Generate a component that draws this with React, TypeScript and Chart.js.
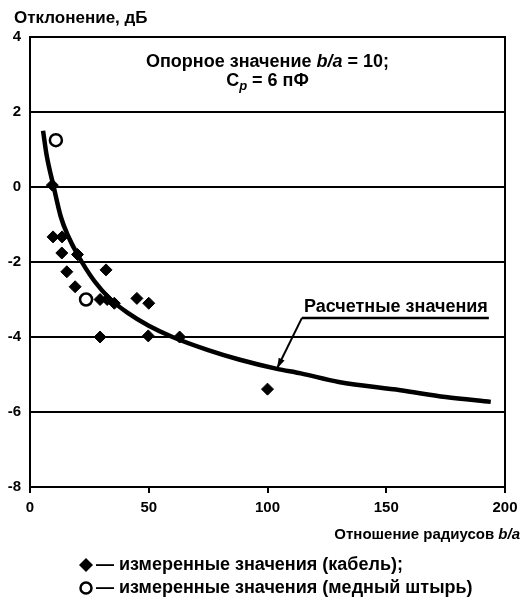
import React, { useEffect, useRef } from "react";
import { Chart, registerables } from "chart.js";

Chart.register(...registerables);

// Calculated curve ("Расчетные значения")
const curveX = [5.5, 7, 10, 13, 16, 20, 27, 34, 41, 50, 60, 75, 88, 104, 114, 130, 156, 175, 194];
const curveY = [1.5, 0.85, 0, -0.8, -1.3, -1.8, -2.5, -3.0, -3.35, -3.7, -4.0, -4.35, -4.6, -4.85, -4.97, -5.2, -5.42, -5.6, -5.73];

// Measured values (cable) – filled diamonds
const cableX = [9.4, 9.7, 13.5, 13.4, 20, 15.5, 32, 19, 29.5, 32.5, 35.5, 45, 50, 29.5, 49.8, 63, 100];
const cableY = [0.05, -1.33, -1.33, -1.76, -1.8, -2.26, -2.21, -2.66, -3.0, -3.0, -3.1, -2.97, -3.1, -4.0, -3.97, -4.0, -5.39];

// Measured values (copper pin) – open circles
const pinX = [10.9, 23.6];
const pinY = [1.25, -3.0];

const yTicks = [4, 2, 0, -2, -4, -6, -8];
const xTicks = [0, 50, 100, 150, 200];

const FONT = "'Liberation Sans', Arial, sans-serif";

const overlay = {
  id: "overlay",
  afterDraw(chart: any) {
    const { ctx, chartArea: a, scales } = chart;
    const xs = scales.x;
    const ys = scales.y;
    ctx.save();
    ctx.strokeStyle = "#000";
    ctx.fillStyle = "#000";
    ctx.lineWidth = 2;
    ctx.strokeRect(a.left, a.top, a.right - a.left, a.bottom - a.top);

    ctx.textBaseline = "middle";
    // Y-axis title
    ctx.font = `bold 17px ${FONT}`;
    ctx.textAlign = "left";
    ctx.fillText("Отклонение, дБ", 14, 18);

    // Annotation block
    const normal = `bold 18px ${FONT}`;
    const ital = `italic bold 18px ${FONT}`;
    const segs1: [string, string][] = [
      ["Опорное значение ", normal],
      ["b/a", ital],
      [" = 10;", normal],
    ];
    let w = 0;
    for (const [t, f] of segs1) { ctx.font = f; w += ctx.measureText(t).width; }
    const cx = xs.getPixelForValue(100);
    let px = cx - w / 2;
    const y1 = ys.getPixelForValue(3.33);
    for (const [t, f] of segs1) { ctx.font = f; ctx.fillText(t, px, y1); px += ctx.measureText(t).width; }

    const y2 = ys.getPixelForValue(2.83);
    ctx.font = normal;
    const wC = ctx.measureText("C").width;
    ctx.font = `italic bold 13px ${FONT}`;
    const wp = ctx.measureText("p").width;
    ctx.font = normal;
    const rest = " = 6 пФ";
    const wr = ctx.measureText(rest).width;
    px = cx - (wC + wp + wr) / 2;
    ctx.fillText("C", px, y2);
    px += wC;
    ctx.font = `italic bold 13px ${FONT}`;
    ctx.fillText("p", px, y2 + 6);
    px += wp;
    ctx.font = normal;
    ctx.fillText(rest, px, y2);

    // Calculated values label with leader arrow
    const lx = xs.getPixelForValue(114.5);
    const ly = ys.getPixelForValue(-3.49);
    ctx.font = `bold 18px ${FONT}`;
    ctx.textAlign = "left";
    ctx.textBaseline = "alphabetic";
    const label = "Расчетные значения";
    const lw = ctx.measureText(label).width;
    ctx.fillText(label, lx + 2, ly - 6);
    ctx.lineWidth = 2.5;
    ctx.beginPath();
    ctx.moveTo(lx, ly);
    ctx.lineTo(lx + lw + 3, ly);
    ctx.stroke();
    const tx = xs.getPixelForValue(104);
    const ty = ys.getPixelForValue(-4.84);
    ctx.lineWidth = 2;
    ctx.beginPath();
    ctx.moveTo(lx, ly);
    ctx.lineTo(tx, ty);
    ctx.stroke();
    const ang = Math.atan2(ty - ly, tx - lx);
    const hl = 11, hw = 0.3;
    ctx.beginPath();
    ctx.moveTo(tx, ty);
    ctx.lineTo(tx - hl * Math.cos(ang - hw), ty - hl * Math.sin(ang - hw));
    ctx.lineTo(tx - hl * Math.cos(ang + hw), ty - hl * Math.sin(ang + hw));
    ctx.closePath();
    ctx.fill();

    // X-axis title
    ctx.textBaseline = "middle";
    ctx.textAlign = "left";
    const xfont = `bold 15px ${FONT}`;
    const xfontI = `italic bold 15px ${FONT}`;
    const xt1 = "Отношение радиусов ";
    const xt2 = "b/a";
    ctx.font = xfont;
    const w1 = ctx.measureText(xt1).width;
    ctx.font = xfontI;
    const w2 = ctx.measureText(xt2).width;
    const xx = 520 - w1 - w2;
    ctx.font = xfont;
    ctx.fillText(xt1, xx, 535);
    ctx.font = xfontI;
    ctx.fillText(xt2, xx + w1, 535);

    // Legend
    ctx.font = `bold 18px ${FONT}`;
    const lg1 = 565, lg2 = 588;
    ctx.beginPath();
    ctx.moveTo(86, lg1 - 7);
    ctx.lineTo(93, lg1);
    ctx.lineTo(86, lg1 + 7);
    ctx.lineTo(79, lg1);
    ctx.closePath();
    ctx.fill();
    ctx.fillText("— измеренные значения (кабель);", 96, lg1);
    ctx.beginPath();
    ctx.arc(86, lg2, 5.5, 0, Math.PI * 2);
    ctx.fillStyle = "#fff";
    ctx.fill();
    ctx.lineWidth = 2.5;
    ctx.strokeStyle = "#000";
    ctx.stroke();
    ctx.fillStyle = "#000";
    ctx.fillText("— измеренные значения (медный штырь)", 96, lg2);

    ctx.restore();
  },
};

export default function App() {
  const ref = useRef<HTMLCanvasElement | null>(null);

  useEffect(() => {
    if (!ref.current) return;
    const chart = new Chart(ref.current, {
      type: "scatter",
      data: {
        datasets: [
          {
            label: "измеренные значения (медный штырь)",
            data: pinX.map((x, i) => ({ x, y: pinY[i] })),
            pointStyle: "circle",
            pointRadius: 6,
            pointBackgroundColor: "#fff",
            pointBorderColor: "#000",
            pointBorderWidth: 2.5,
            order: 1,
          },
          {
            label: "измеренные значения (кабель)",
            data: cableX.map((x, i) => ({ x, y: cableY[i] })),
            pointStyle: "rectRot",
            pointRadius: 6,
            pointBackgroundColor: "#000",
            pointBorderColor: "#000",
            pointBorderWidth: 1,
            order: 2,
          },
          {
            label: "Расчетные значения",
            data: curveX.map((x, i) => ({ x, y: curveY[i] })),
            showLine: true,
            borderColor: "#000",
            borderWidth: 4.5,
            pointRadius: 0,
            cubicInterpolationMode: "monotone",
            order: 3,
          },
        ],
      },
      options: {
        animation: false,
        responsive: false,
        maintainAspectRatio: false,
        layout: { padding: { top: 37, right: 21, left: 0, bottom: 0 } },
        plugins: { legend: { display: false }, tooltip: { enabled: false } },
        scales: {
          x: {
            type: "linear",
            min: 0,
            max: 200,
            afterBuildTicks: (s: any) => { s.ticks = xTicks.map((v) => ({ value: v })); },
            afterFit: (s: any) => { s.height = 116; },
            grid: { display: true, drawOnChartArea: false, color: "#000", lineWidth: 2, tickLength: 6 },
            border: { display: true, color: "#000", width: 2 },
            ticks: { color: "#000", font: { family: FONT, size: 15, weight: "bold" }, padding: 6, maxRotation: 0 },
          },
          y: {
            type: "linear",
            min: -8,
            max: 4,
            afterBuildTicks: (s: any) => { s.ticks = yTicks.map((v) => ({ value: v })); },
            afterFit: (s: any) => { s.width = 30; },
            grid: { display: true, color: "#000", lineWidth: 2, drawTicks: false },
            border: { display: true, color: "#000", width: 2 },
            ticks: { color: "#000", font: { family: FONT, size: 15, weight: "bold" }, padding: 9 },
          },
        },
      },
      plugins: [overlay],
    } as any);
    return () => chart.destroy();
  }, []);

  return (
    <div style={{ position: "fixed", left: 0, top: 0, width: 526, height: 603, background: "#fff" }}>
      <canvas ref={ref} width={526} height={603} style={{ width: 526, height: 603, display: "block" }} />
    </div>
  );
}
